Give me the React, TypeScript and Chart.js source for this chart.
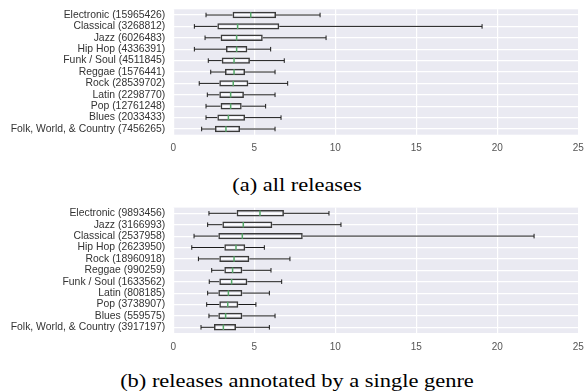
import React, { useEffect, useRef } from "react";
import { Chart, registerables } from "chart.js";
Chart.register(...registerables);

// ---- Data ----
const xTicks = [0, 5, 10, 15, 20, 25];

const genresA = ["Electronic", "Classical", "Jazz", "Hip Hop", "Funk / Soul", "Reggae", "Rock", "Latin", "Pop", "Blues", "Folk, World, & Country"];
const countsA = [15965426, 3268812, 6026483, 4336391, 4511845, 1576441, 28539702, 2298770, 12761248, 2033433, 7456265];
const lowA = [2.02, 1.3, 1.96, 1.3, 2.16, 2.31, 1.6, 2.1, 2.02, 2.02, 1.75];
const q1A = [3.66, 2.72, 2.92, 3.25, 2.99, 3.19, 2.84, 2.84, 2.92, 2.72, 2.57];
const medA = [4.78, 3.97, 3.91, 3.91, 3.75, 3.75, 3.7, 3.54, 3.54, 3.4, 3.25];
const q3A = [6.34, 6.54, 5.52, 4.57, 4.73, 4.43, 4.63, 4.36, 4.22, 4.43, 4.12];
const highA = [9.06, 19.06, 9.43, 6.01, 6.85, 6.28, 7.06, 6.28, 5.7, 6.65, 6.28];

const genresB = ["Electronic", "Jazz", "Classical", "Hip Hop", "Rock", "Reggae", "Funk / Soul", "Latin", "Pop", "Blues", "Folk, World, & Country"];
const countsB = [9893456, 3166993, 2537958, 2623950, 18960918, 990259, 1633562, 808185, 3738907, 559575, 3917197];
const lowB = [2.2, 2.12, 1.28, 1.14, 1.55, 2.37, 2.22, 2.12, 2.06, 2.2, 1.71];
const q1B = [3.91, 3.03, 2.78, 3.15, 2.84, 3.15, 2.84, 2.78, 2.84, 2.78, 2.51];
const medB = [5.35, 4.32, 4.26, 3.87, 3.75, 3.66, 3.6, 3.4, 3.36, 3.23, 3.09];
const q3B = [6.83, 6.11, 7.99, 4.44, 4.69, 4.26, 4.57, 4.26, 4.01, 4.26, 3.87];
const highB = [9.61, 10.35, 22.27, 5.62, 7.2, 6.03, 6.69, 5.93, 5.1, 6.28, 5.93];

const captionA = "(a) all releases";
const captionB = "(b) releases annotated by a single genre";

type PanelProps = {
  genres: string[];
  counts: number[];
  low: number[];
  q1: number[];
  med: number[];
  q3: number[];
  high: number[];
  top: number;
  height: number;
  areaTop: number;
  areaBottom: number;
};

function BoxPanel(p: PanelProps) {
  const ref = useRef<HTMLCanvasElement | null>(null);
  useEffect(() => {
    if (!ref.current) return;
    const labels = p.genres.map((g, i) => `${g} (${p.counts[i]})`);
    const bgPlugin = {
      id: "bgfill",
      beforeDraw(chart: any) {
        const { ctx, chartArea } = chart;
        ctx.save();
        ctx.fillStyle = "#EAEAF2";
        ctx.fillRect(chartArea.left, chartArea.top, chartArea.right - chartArea.left, chartArea.bottom - chartArea.top);
        ctx.restore();
      },
    };
    const whiskerPlugin = {
      id: "whiskers",
      afterDatasetsDraw(chart: any) {
        const { ctx } = chart;
        const x = chart.scales.x;
        const y = chart.scales.y;
        const band = Math.abs(y.getPixelForValue(1) - y.getPixelForValue(0));
        ctx.save();
        for (let i = 0; i < p.genres.length; i++) {
          const cy = y.getPixelForValue(i);
          const xl = x.getPixelForValue(p.low[i]);
          const x1 = x.getPixelForValue(p.q1[i]);
          const xm = x.getPixelForValue(p.med[i]);
          const x3 = x.getPixelForValue(p.q3[i]);
          const xh = x.getPixelForValue(p.high[i]);
          ctx.strokeStyle = "#1a1a1a";
          ctx.lineWidth = 1;
          ctx.beginPath();
          ctx.moveTo(xl, cy);
          ctx.lineTo(x1, cy);
          ctx.moveTo(x3, cy);
          ctx.lineTo(xh, cy);
          const cap = band * 0.2;
          ctx.moveTo(xl, cy - cap);
          ctx.lineTo(xl, cy + cap);
          ctx.moveTo(xh, cy - cap);
          ctx.lineTo(xh, cy + cap);
          ctx.stroke();
          ctx.strokeStyle = "#55A868";
          ctx.lineWidth = 1.5;
          ctx.beginPath();
          const mh = band * 0.24;
          ctx.moveTo(xm, cy - mh);
          ctx.lineTo(xm, cy + mh);
          ctx.stroke();
        }
        ctx.restore();
      },
    };
    const areaLeft = 173.3;
    const areaRight = 578.3;
    const chart = new Chart(ref.current, {
      type: "bar",
      data: {
        labels,
        datasets: [
          {
            data: p.q1.map((v, i) => [v, p.q3[i]]) as any,
            backgroundColor: "rgba(0,0,0,0)",
            borderColor: "#3a3a3a",
            borderWidth: 1.5,
            borderSkipped: false,
            barPercentage: 0.56,
            categoryPercentage: 1,
          },
        ],
      },
      options: {
        indexAxis: "y",
        animation: false,
        responsive: false,
        events: [],
        layout: { padding: { top: p.areaTop, right: 584 - areaRight, left: 0, bottom: 0 } },
        plugins: { legend: { display: false }, tooltip: { enabled: false } },
        scales: {
          x: {
            type: "linear",
            min: xTicks[0],
            max: xTicks[xTicks.length - 1],
            afterBuildTicks: (s: any) => {
              s.ticks = xTicks.map((v) => ({ value: v }));
            },
            afterFit: (s: any) => {
              s.height = p.height - p.areaBottom;
              s.paddingLeft = 0;
              s.paddingRight = 0;
            },
            grid: { color: "#ffffff", lineWidth: 1.2, drawTicks: false },
            border: { display: false },
            ticks: {
              color: "#555555",
              padding: 8,
              font: { family: "'Liberation Sans', Arial, sans-serif", size: 10 },
            },
          },
          y: {
            type: "category",
            afterFit: (s: any) => {
              s.width = areaLeft;
              s.paddingTop = 0;
              s.paddingBottom = 0;
            },
            grid: { color: "#ffffff", lineWidth: 1.2, drawTicks: false, offset: false },
            border: { display: false },
            ticks: {
              color: "#333333",
              padding: 8,
              autoSkip: false,
              font: { family: "'Liberation Sans', Arial, sans-serif", size: 10.4 },
            },
          },
        },
      } as any,
      plugins: [bgPlugin, whiskerPlugin],
    });
    return () => chart.destroy();
  }, []);
  return (
    <canvas
      ref={ref}
      width={584}
      height={p.height}
      style={{ position: "absolute", left: 0, top: p.top, width: 584, height: p.height }}
    />
  );
}

function Caption({ text, centerY }: { text: string; centerY: number }) {
  return (
    <div
      style={{
        position: "absolute",
        left: 0,
        width: 594,
        top: centerY - 12,
        height: 24,
        lineHeight: "24px",
        textAlign: "center",
        fontFamily: "'Liberation Serif', 'Times New Roman', serif",
        fontSize: 19.5,
        color: "#000",
        whiteSpace: "nowrap",
        transform: "scaleX(1.15)",
        transformOrigin: "297px 50%",
      }}
    >
      {text}
    </div>
  );
}

export default function App() {
  return (
    <div style={{ position: "absolute", left: 0, top: 0, width: 584, height: 392, background: "#fff", overflow: "hidden" }}>
      <BoxPanel
        genres={genresA}
        counts={countsA}
        low={lowA}
        q1={q1A}
        med={medA}
        q3={q3A}
        high={highA}
        top={0}
        height={162}
        areaTop={9.3}
        areaBottom={134.7}
      />
      <Caption text={captionA} centerY={185} />
      <BoxPanel
        genres={genresB}
        counts={countsB}
        low={lowB}
        q1={q1B}
        med={medB}
        q3={q3B}
        high={highB}
        top={198}
        height={162}
        areaTop={9.6}
        areaBottom={135}
      />
      <Caption text={captionB} centerY={381} />
    </div>
  );
}
